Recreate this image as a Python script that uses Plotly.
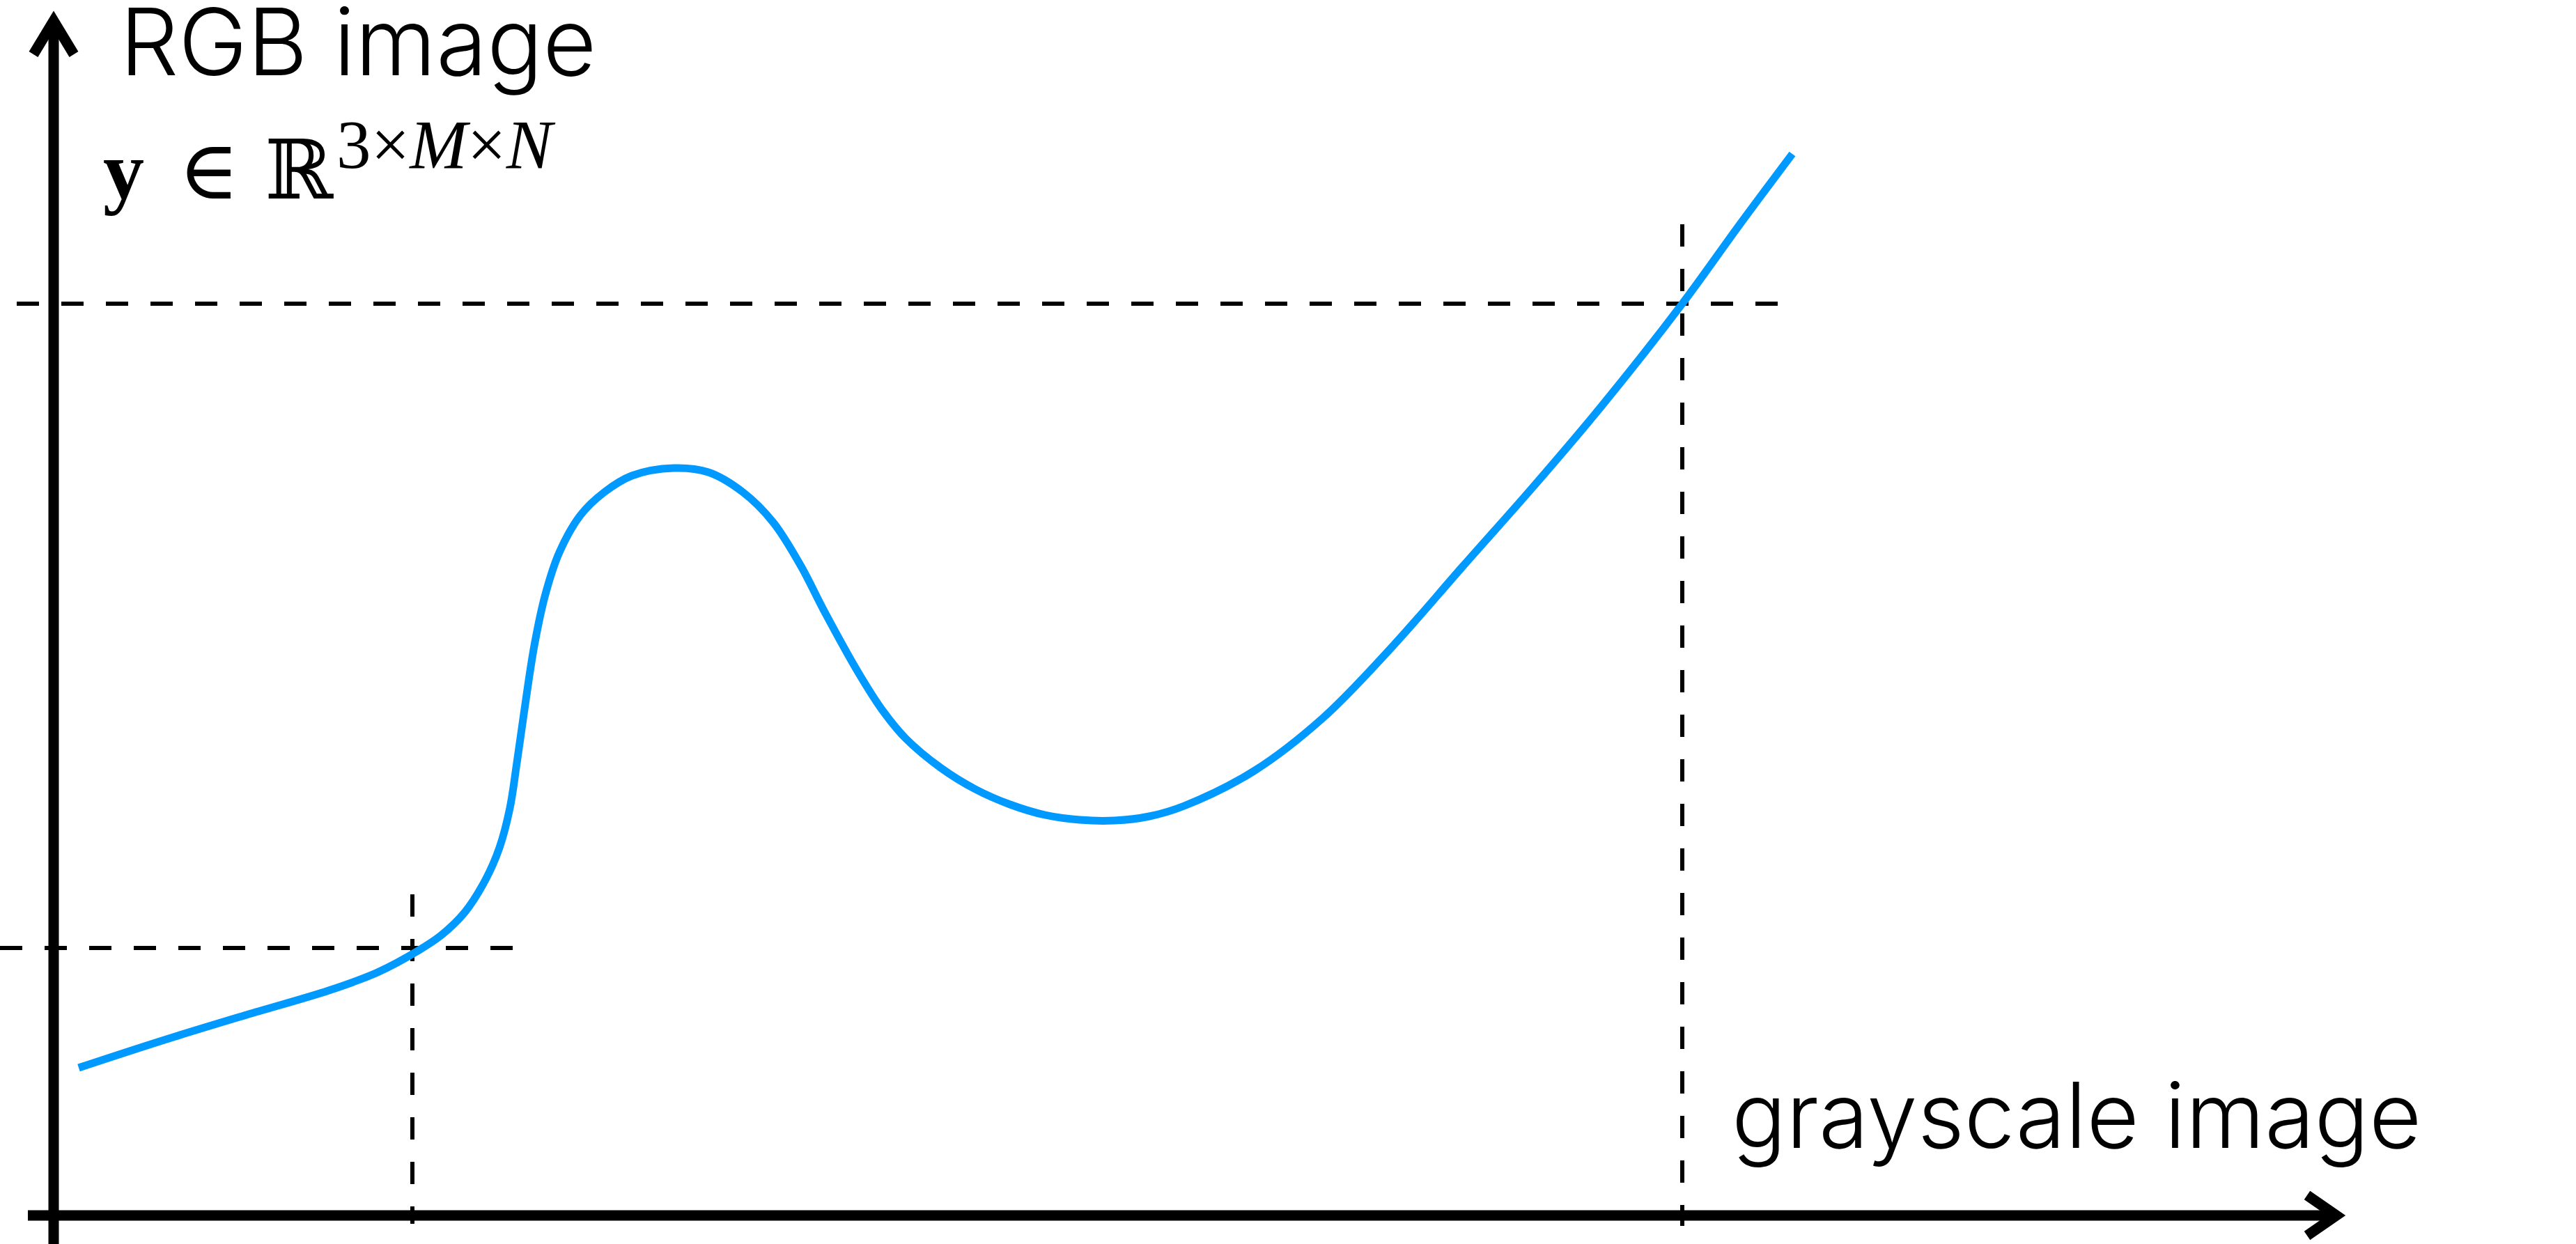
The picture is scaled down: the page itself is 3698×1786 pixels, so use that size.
import plotly.graph_objects as go

# Curve (grayscale -> RGB mapping), in axis units (origin at axes crossing)
curve_x = [35, 158, 276, 394, 464, 522, 555, 589, 619, 639, 654, 664, 674, 689, 705, 725,
           755, 789, 829, 889, 939, 989, 1032, 1072, 1105, 1155, 1189, 1222, 1272, 1322, 1372,
           1422, 1472, 1522, 1572, 1622, 1722, 1822, 1922, 2022, 2122, 2222,
           2337, 2419, 2495]
curve_y = [212, 252, 288, 323, 349, 380, 402, 435, 482, 528, 585, 650, 720, 818, 892, 952,
           1005, 1038, 1062, 1073, 1067, 1038, 995, 932, 868, 778, 725, 685, 643, 612, 590,
           575, 568, 567, 573, 588, 638, 715, 818, 932, 1045, 1163,
           1309, 1422, 1524]

# Reference levels (dashed guides)
x_levels = [514, 2337]
y_levels = [384, 1309]
# extents of guides
hguide_x0 = [-78, -54]
hguide_x1 = [659, 2475]
vguide_y_top = [461, 1423]
vguide_y_bot = [-12, -15]

x_label = "grayscale image"
y_label = "RGB image"
math_parts = ["<b>y</b>", "∈", "ℝ"]
math_sup = "3×<i>M</i>×<i>N</i>"

BLUE = "#0099FF"
fig = go.Figure()
fig.add_trace(go.Scatter(x=curve_x, y=curve_y, mode="lines",
                         line=dict(color=BLUE, width=11, shape="spline", smoothing=1.0),
                         hoverinfo="skip"))

DASH = "32px,32px"
shapes = []
for xl, yl, x0, x1, yt, yb in zip(x_levels, y_levels, hguide_x0, hguide_x1, vguide_y_top, vguide_y_bot):
    shapes.append(dict(type="line", xref="x", yref="y", x0=x0, x1=x1, y0=yl, y1=yl,
                       line=dict(color="black", width=6, dash=DASH), layer="below"))
    shapes.append(dict(type="line", xref="x", yref="y", x0=xl, x1=xl, y0=yt, y1=yb,
                       line=dict(color="black", width=6, dash=DASH), layer="below"))

# axes
shapes.append(dict(type="line", xref="x", yref="y", x0=-38, x1=3274, y0=0, y1=0,
                   line=dict(color="black", width=15)))
shapes.append(dict(type="line", xref="x", yref="y", x0=-1, x1=-1, y0=-41, y1=1713,
                   line=dict(color="black", width=15)))
# arrowheads
shapes.append(dict(type="path", xref="x", yref="y",
                   path="M 3234,29 L 3276,0 L 3234,-29",
                   line=dict(color="black", width=15)))
shapes.append(dict(type="path", xref="x", yref="y",
                   path="M -30,1667 L -1,1715 L 28,1667",
                   line=dict(color="black", width=15)))

SANS = "Inter, Roboto, sans-serif"
SERIF = "Liberation Serif, DejaVu Serif, serif"
math_x = [68, 176, 300]
annotations = [
    dict(x=92, y=1686, xref="x", yref="y", text=y_label, showarrow=False,
         xanchor="left", yanchor="middle",
         font=dict(family=SANS, size=133, color="black", weight=300)),
    dict(x=2406, y=145, xref="x", yref="y", text=x_label, showarrow=False,
         xanchor="left", yanchor="middle",
         font=dict(family=SANS, size=130, color="black", weight=300)),
    dict(x=403, y=1538, xref="x", yref="y", text=math_sup, showarrow=False,
         xanchor="left", yanchor="middle",
         font=dict(family=SERIF, size=99, color="black")),
]
for mx, part in zip(math_x, math_parts):
    annotations.append(dict(x=mx, y=1500, xref="x", yref="y", text=part, showarrow=False,
                            xanchor="left", yanchor="middle",
                            font=dict(family=SERIF, size=118, color="black")))

fig.update_layout(
    width=3698, height=1786, autosize=False,
    margin=dict(l=0, r=0, t=0, b=0, pad=0),
    paper_bgcolor="white", plot_bgcolor="white",
    showlegend=False,
    xaxis=dict(range=[-78, 3620], visible=False, fixedrange=True),
    yaxis=dict(range=[-41, 1745], visible=False, fixedrange=True),
    shapes=shapes, annotations=annotations,
)
fig.write_html("out.html", config={"displayModeBar": False},
               post_script="document.body.style.margin='0px';")
